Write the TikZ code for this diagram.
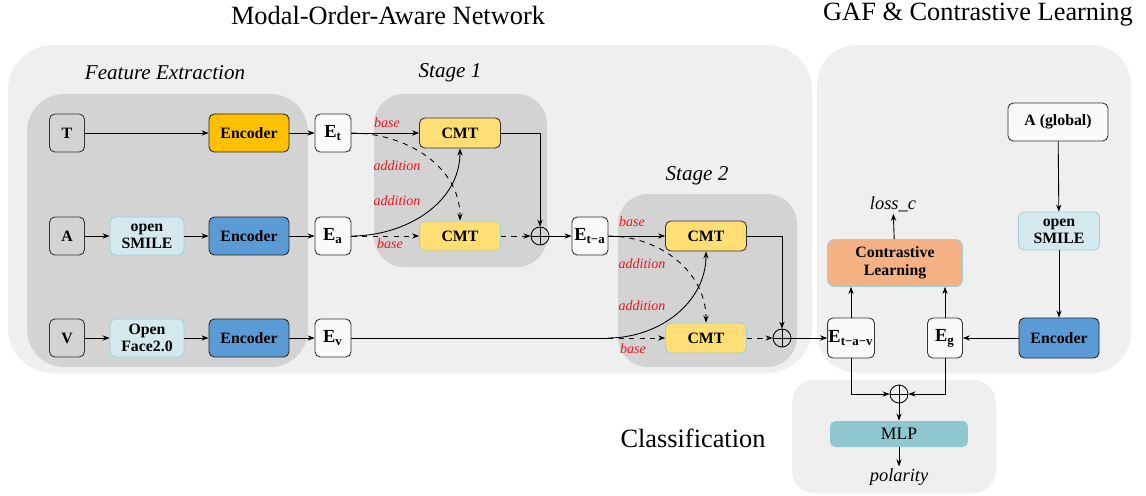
\documentclass[tikz,border=0pt]{standalone}
\usepackage{fontspec}
\setmainfont{Liberation Serif}
\usetikzlibrary{arrows.meta}

\definecolor{panelout}{HTML}{EFEFEF}
\definecolor{panelin}{HTML}{D3D3D3}
\definecolor{encorange}{HTML}{FFC000}
\definecolor{encblue}{HTML}{5B9BD5}
\definecolor{prefill}{HTML}{D3E9ED}
\definecolor{preline}{HTML}{9DD0DA}
\definecolor{cmtfill}{HTML}{FFDE75}
\definecolor{clfill}{HTML}{F4B183}
\definecolor{mlpfill}{HTML}{8EC7CF}
\definecolor{lblred}{HTML}{F0141E}

\begin{document}
\begin{tikzpicture}[x=0.02cm, y=-0.02cm, line width=0.5pt,
    >={Stealth[length=4pt,width=3pt]},
    inbox/.style={draw=black!80, rounded corners=3pt, minimum width=0.7cm, minimum height=0.76cm, font=\bfseries\fontsize{9}{10}\selectfont},
    emb/.style={draw=black!80, fill=white!70!panelout, rounded corners=3pt, minimum width=0.72cm, minimum height=0.76cm, inner sep=1pt, font=\bfseries\fontsize{10.5}{11}\selectfont},
    enc/.style={draw=black!85, rounded corners=3pt, minimum width=1.6cm, minimum height=0.76cm, font=\bfseries\fontsize{9}{10}\selectfont},
    pre/.style={draw=preline, fill=prefill, rounded corners=3pt, minimum width=1.48cm, minimum height=0.76cm, align=center, inner sep=1pt, font=\bfseries\fontsize{9}{9.5}\selectfont},
    cmt/.style={draw=black!80, fill=cmtfill, rounded corners=3pt, minimum width=1.62cm, minimum height=0.6cm, font=\bfseries\fontsize{9}{10}\selectfont},
    clbox/.style={draw=preline, fill=clfill, rounded corners=4pt, minimum width=2.7cm, minimum height=0.94cm, align=center, inner sep=1pt, font=\bfseries\fontsize{9}{10.5}\selectfont},
    mlpbox/.style={fill=mlpfill, rounded corners=3pt, minimum width=2.76cm, minimum height=0.52cm, font=\fontsize{10}{11}\selectfont},
    oplus/.style={draw, circle, minimum size=0.36cm, inner sep=0pt,
        path picture={\draw (path picture bounding box.north) -- (path picture bounding box.south)
                            (path picture bounding box.west) -- (path picture bounding box.east);}},
    lbl/.style={text=lblred, inner sep=0pt, font=\itshape\fontsize{8}{9}\selectfont},
    outtxt/.style={inner sep=1pt, font=\itshape\fontsize{10.5}{11}\selectfont},
    title/.style={font=\fontsize{15}{16}\selectfont},
    stage/.style={font=\itshape\fontsize{12}{13}\selectfont}
]
    \useasboundingbox (0,0) rectangle (1146,495);

    % Panels
    \fill[panelout, rounded corners=0.9cm] (8,45) rectangle (812,373);
    \fill[panelout, rounded corners=0.8cm] (817,45) rectangle (1131,373);
    \fill[panelout, rounded corners=0.45cm] (792,380) rectangle (996,493);
    \fill[panelin, rounded corners=0.75cm] (27,94) rectangle (308,367);
    \fill[panelin, rounded corners=0.6cm] (374,94) rectangle (547,267);
    \fill[panelin, rounded corners=0.6cm] (618,194) rectangle (797,367);

    % Titles
    \node[title] (ttlnet) at (388,15) {Modal-Order-Aware Network};
    \node[title] (ttlgaf) at (978,15) {GAF \& Contrastive Learning};
    \node[title] (ttlcls) at (693,438) {Classification};
    \node[stage] (ttlfe) at (165,73) {Feature Extraction};
    \node[stage] (ttls1) at (450,73) {Stage 1};
    \node[stage] (ttls2) at (697,176) {Stage 2};

    % Feature extraction
    \node[inbox] (T) at (67,133) {T};
    \node[inbox] (A) at (67,236) {A};
    \node[inbox] (V) at (67,338) {V};
    \node[pre] (smile) at (147,236) {open\\SMILE};
    \node[pre] (face) at (147,338) {Open\\Face2.0};
    \foreach \m/\y/\c in {t/133/encorange, a/236/encblue, v/338/encblue} {
        \node[enc, fill=\c] (enc\m) at (249,\y) {Encoder};
        \node[emb] (E\m) at (333,\y) {E\textsubscript{\m}};
        \draw[->] (enc\m) -- (E\m);
    }
    \draw[->] (T) -- (enct);
    \draw[->] (A) -- (smile);
    \draw[->] (smile) -- (enca);
    \draw[->] (V) -- (face);
    \draw[->] (face) -- (encv);

    % Stage 1
    \node[cmt] (cmtA) at (460,133) {CMT};
    \node[cmt, draw=preline] (cmtB) at (460,236) {CMT};
    \node[oplus] (sumA) at (540,236) {};
    \node[emb] (Eta) at (590,236) {E\textsubscript{t−a}};
    \draw[->] (Et) -- (cmtA);
    \draw[->, dashed] (Et.east) to[out=0, in=90] (cmtB.north);
    \draw[->] (Ea.east) to[out=0, in=-90] (cmtA.south);
    \draw[->, dashed] (Ea) -- (cmtB);
    \draw[->] (cmtA.east) -| (sumA.north);
    \draw[->, dashed] (cmtB) -- (sumA);
    \draw[->] (sumA) -- (Eta);
    \node[lbl] (bs1) at (387,123) {base};
    \node[lbl] (ad1) at (397,166) {addition};
    \node[lbl] (ad2) at (397,201) {addition};
    \node[lbl] (bs2) at (390,244) {base};

    % Stage 2
    \node[cmt] (cmtC) at (706,236) {CMT};
    \node[cmt, draw=preline] (cmtD) at (706,338) {CMT};
    \node[oplus] (sumB) at (782,338) {};
    \coordinate (vsplit) at (608,338);
    \draw (Ev) -- (vsplit);
    \draw[->] (Eta) -- (cmtC);
    \draw[->, dashed] (Eta.east) to[out=0, in=90] (cmtD.north);
    \draw[->] (vsplit) to[out=0, in=-90] (cmtC.south);
    \draw[->, dashed] (vsplit) -- (cmtD);
    \draw[->] (cmtC.east) -| (sumB.north);
    \draw[->, dashed] (cmtD) -- (sumB);
    \node[lbl] (bs3) at (632,222) {base};
    \node[lbl] (ad3) at (642,264) {addition};
    \node[lbl] (ad4) at (642,306) {addition};
    \node[lbl] (bs4) at (633,349) {base};

    % GAF & contrastive learning
    \node[emb, minimum width=0.92cm, minimum height=0.8cm, inner sep=0.5pt] (Etav) at (851,338) {E\textsubscript{t−a−v}};
    \node[emb, minimum width=0.7cm, minimum height=0.8cm] (Eg) at (945,338) {E\textsubscript{g}};
    \node[enc, fill=encblue, minimum height=0.8cm] (encg) at (1059,338) {Encoder};
    \node[pre, minimum width=1.62cm] (smileg) at (1059,231) {open\\SMILE};
    \node[inbox, fill=white!60!panelout, minimum width=2cm] (Ag) at (1058,122) {A (global)};
    \node[clbox] (cl) at (895,263) {Contrastive\\Learning};
    \node[outtxt] (loss) at (893,204) {loss\_c};
    \draw[->] (sumB) -- (Etav);
    \draw[->] (Ag) -- (smileg);
    \draw[->] (smileg) -- (encg);
    \draw[->] (encg) -- (Eg);
    \draw[->] (Etav.north) -- (Etav.north |- cl.south);
    \draw[->] (Eg.north) -- (Eg.north |- cl.south);
    \draw[->] (cl) -- (loss);

    % Classification
    \node[oplus] (sumC) at (899,394) {};
    \node[mlpbox] (mlp) at (899,434) {MLP};
    \node[outtxt] (pol) at (899,477) {polarity};
    \draw[->] (Etav.south) |- (sumC.west);
    \draw[->] (Eg.south) |- (sumC.east);
    \draw[->] (sumC) -- (mlp);
    \draw[->] (mlp) -- (pol);
\end{tikzpicture}
\end{document}
